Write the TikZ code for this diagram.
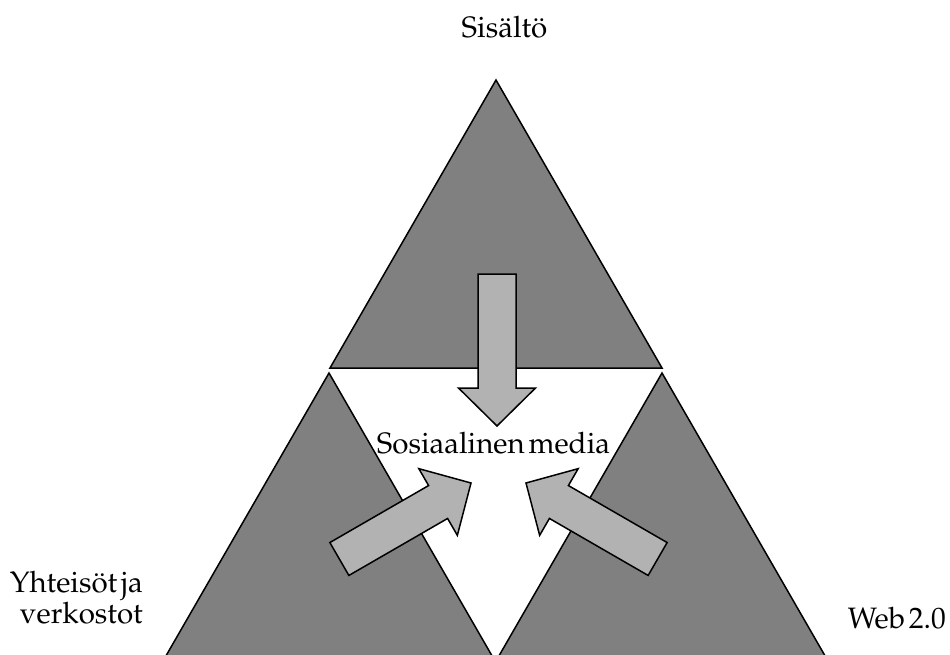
\documentclass[tikz,border=0pt]{standalone}
\usepackage[T1]{fontenc}
\usepackage{mathpazo}
\definecolor{darkfill}{HTML}{808080}
\definecolor{arrowfill}{HTML}{B2B2B2}
\newcommand{\lblfont}{\fontsize{29.5}{34}\selectfont\spaceskip=0.13em plus 0.05em\relax}
\tikzset{
  tri/.style={fill=darkfill,draw=black,line width=1.5pt,line join=miter},
  bigarrow/.style={fill=arrowfill,draw=black,line width=1.5pt,line join=miter},
  lbl/.style={font=\lblfont,inner sep=0pt,anchor=base}
}
\newcommand{\myarrow}[3]{% tip x, tip y, rotation
  \begin{scope}[shift={(#1,#2)},rotate=#3]
    \path[bigarrow] (-19,-152) -- (19,-152) -- (19,-38) -- (38.5,-38) -- (0,0) -- (-38.5,-38) -- (-19,-38) -- cycle;
  \end{scope}}
\begin{document}
\begin{tikzpicture}[x=1pt,y=-1pt]
\useasboundingbox (0,0) rectangle (950,655);
\begin{scope}
\clip (0,0) rectangle (950,655);
\path[tri] (496,80) -- (662,368) -- (330,368) -- cycle;
\path[tri] (329,373) -- (495,661) -- (163,661) -- cycle;
\path[tri] (662,373) -- (828,661) -- (496,661) -- cycle;
\myarrow{497}{426}{0}
\myarrow{471}{483}{120}
\myarrow{526}{483}{-120}
\end{scope}
\node[lbl] (top) at (504.5,38) {Sis\"alt\"o};
\node[lbl] (center) at (493.5,453) {Sosiaalinen media};
\node[lbl,anchor=base east] (left1) at (143,592) {Yhteis\"ot ja};
\node[lbl,anchor=base east] (left2) at (143,623) {verkostot};
\node[lbl,anchor=base east] (right) at (946,628) {Web 2.0};
\end{tikzpicture}
\end{document}
